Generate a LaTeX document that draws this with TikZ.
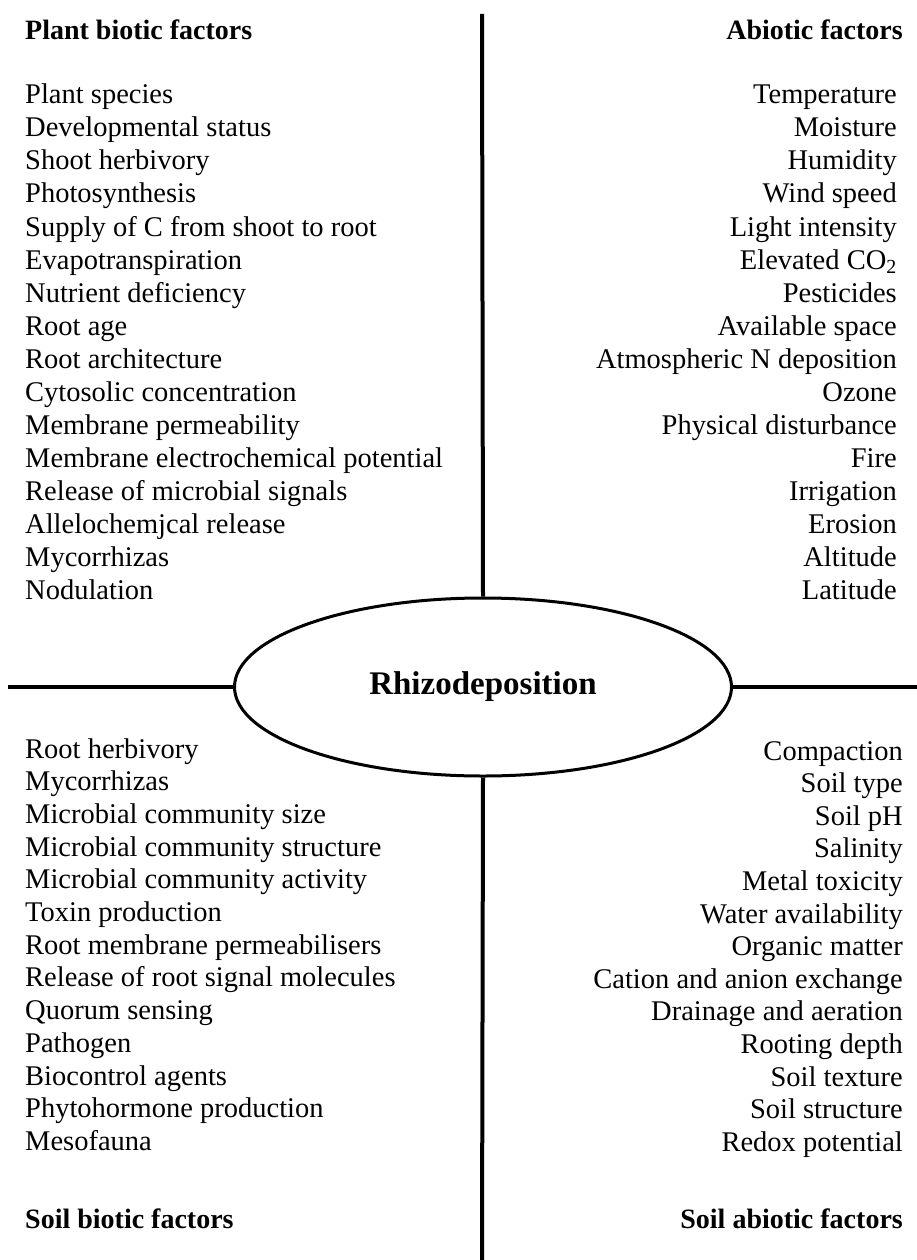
\documentclass[tikz,border=0pt]{standalone}
\usepackage{fontspec}
\setmainfont{Liberation Serif}
\usetikzlibrary{shapes.geometric}

\tikzset{
  factor/.style={inner sep=0pt, font=\fontsize{28.5}{30}\selectfont},
  heading/.style={inner sep=0pt, font=\fontsize{28}{30}\selectfont\bfseries},
  axisline/.style={line width=4pt},
}

\begin{document}
\begin{tikzpicture}[x=1pt, y=-1pt]
\useasboundingbox (0,0) rectangle (917,1260);

% centre
\node[draw, ellipse, line width=3pt, inner sep=0pt, minimum width=497pt, minimum height=178pt,
      font=\fontsize{33}{36}\selectfont\bfseries] (rhizo) at (483,687) {Rhizodeposition};

\coordinate (topend) at (482,14);
\coordinate (botend) at (482,1260);
\coordinate (leftend) at (8,687);
\coordinate (rightend) at (917,687);

\draw[axisline] (topend) -- (rhizo.north);
\draw[axisline] (rhizo.south) -- (botend);
\draw[axisline] (leftend) -- (rhizo.west);
\draw[axisline] (rhizo.east) -- (rightend);

% headings
\node[heading, anchor=base west] (plantbiotic) at (25,40) {Plant biotic factors};
\node[heading, anchor=base east] (abiotic) at (903,40) {Abiotic factors};
\node[heading, anchor=base west] (soilbiotic) at (25,1228) {Soil biotic factors};
\node[heading, anchor=base east] (soilabiotic) at (903,1228) {Soil abiotic factors};

% plant biotic
\foreach \txt [count=\i from 0] in {Plant species, Developmental status, Shoot herbivory,
  Photosynthesis, Supply of C from shoot to root, Evapotranspiration, Nutrient deficiency,
  Root age, Root architecture, Cytosolic concentration, Membrane permeability,
  Membrane electrochemical potential, Release of microbial signals, Allelochemjcal release,
  Mycorrhizas, Nodulation}
  \node[factor, anchor=base west] (pb\i) at (25,{104+33*\i}) {\txt};

% abiotic
\foreach \txt [count=\i from 0] in {Temperature, Moisture, Humidity, Wind speed,
  Light intensity, Elevated CO\textsubscript{2}, Pesticides, Available space,
  Atmospheric N deposition, Ozone, Physical disturbance, Fire, Irrigation, Erosion,
  Altitude, Latitude}
  \node[factor, anchor=base east] (ab\i) at (897,{104+33*\i}) {\txt};

% soil biotic
\foreach \txt [count=\i from 0] in {Root herbivory, Mycorrhizas, Microbial community size,
  Microbial community structure, Microbial community activity, Toxin production,
  Root membrane permeabilisers, Release of root signal molecules, Quorum sensing,
  Pathogen, Biocontrol agents, Phytohormone production, Mesofauna}
  \node[factor, anchor=base west] (sb\i) at (25,{758+32.7*\i}) {\txt};

% soil abiotic
\foreach \txt [count=\i from 0] in {Compaction, Soil type, Soil pH, Salinity,
  Metal toxicity, Water availability, Organic matter, Cation and anion exchange,
  Drainage and aeration, Rooting depth, Soil texture, Soil structure, Redox potential}
  \node[factor, anchor=base east] (sa\i) at (903,{760+32.6*\i}) {\txt};

\end{tikzpicture}
\end{document}
